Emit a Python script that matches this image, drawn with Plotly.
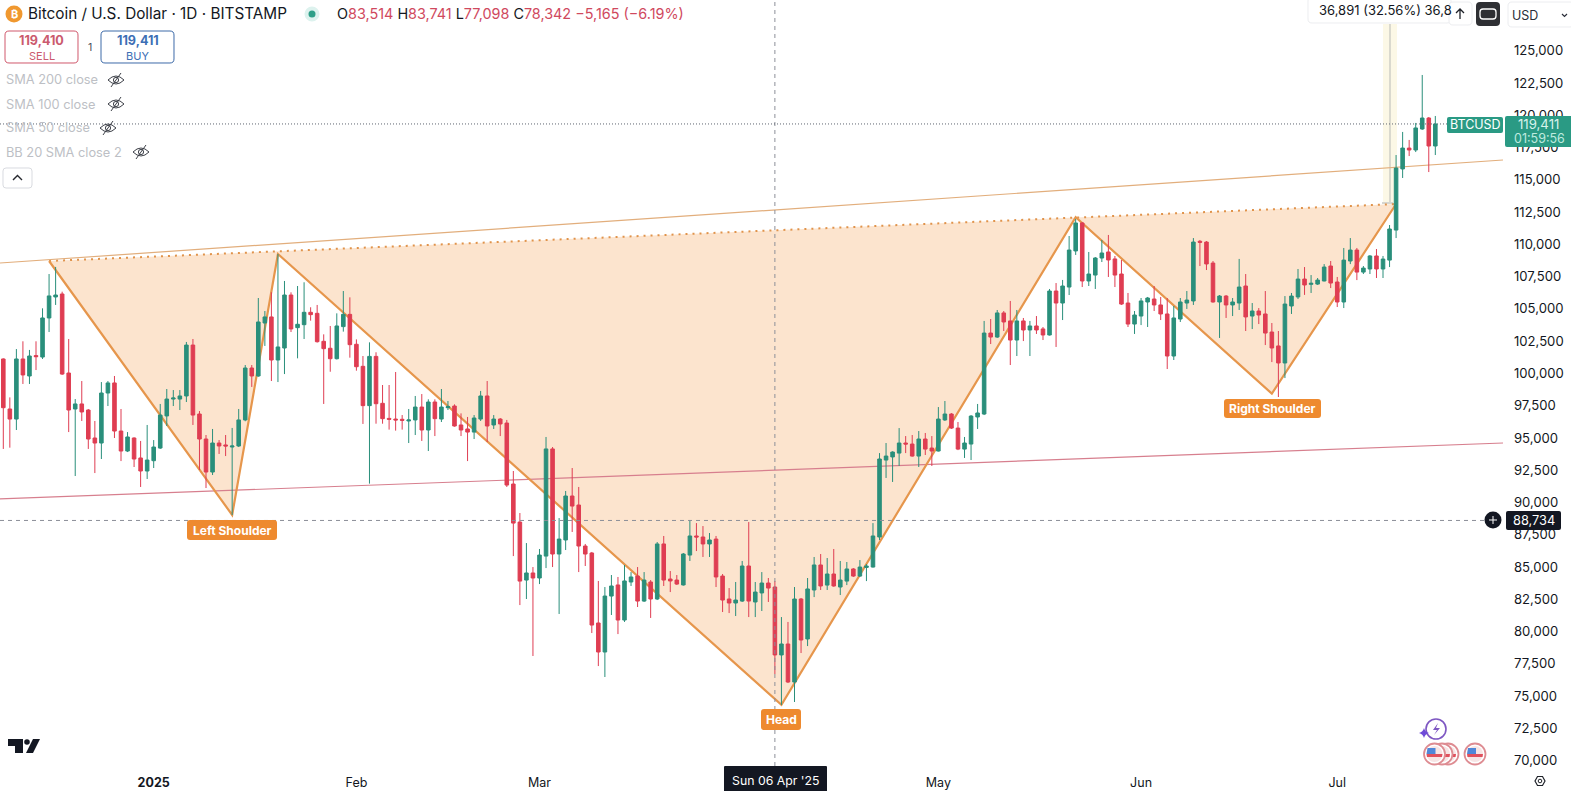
import pandas as pd
import plotly.graph_objects as go

start_date = "2024-12-09"
opens = [
 101030,97150,96370,101030,99710,101290,101180,104210,105840,106070,99940,97150,97540,97070,94900,94510,98390,99170,95440,93890,94900,93350,92340,
 93140,94120,96610,97920,97920,98160,102110,96760,94820,92260,94510,94360,94200,94280,96300,100330,99710,103820,104290,100950,101880,105990,103460,103690,104650,104570,102400,101860,101050,103540,104490,
 102170,100460,97410,101230,97590,96420,96370,96350,96220,96300,97300,95520,97690,96370,97250,97380,95910,95600,95360,96370,98160,95910,96370,96060,91330,88380,83880,84430,
 84040,85740,94050,85900,86990,90400,89700,86520,85980,80550,78300,82640,83500,80780,83730,84190,82250,83730,82410,86680,83960,83880,83500,85820,87300,87220,86680,87060,84190,82410,82100,
 82250,84970,82180,82880,83650,83340,78070,78920,75970,82410,79310,83110,85050,83490,84350,83340,83800,84740,84190,84860,84890,87220,93190,93430,93730,94510,94430,93500,94820,94120,
 93890,96300,96760,95670,94040,94430,96530,96760,103040,102730,104600,103980,102500,103980,103280,103590,103360,102890,106300,105370,106610,109410,111580,107080,107540,108860,109330,108790,107620,105370,103740,
 104360,105450,105680,105220,104520,101260,104130,105370,105530,110160,110100,108470,105450,105910,105220,105370,106690,104360,104750,104520,103120,102040,100720,105140,105840,107230,106820,106840,107080,108240,
 107000,105450,108630,109480,107770,108010,109020,108010,108700,111030,115770,117390,117240,118870,119720,117550]
highs = [
 101080,98050,101800,102400,101730,102400,104960,107620,108170,106250,102580,97920,99320,97150,96220,99240,99320,99710,97150,95360,94950,94670,95910,
 94740,97540,98700,98620,98620,102350,102580,96990,95130,95600,94740,95130,95680,97150,100560,100560,105760,104750,106200,109170,107080,106200,106690,106980,105040,105220,102940,103590,104570,106300,105810,
 102550,101260,102320,101550,99010,99010,100020,96680,97150,98160,98310,97900,97900,98700,97770,97510,96810,96530,96680,98550,99320,96680,96450,96300,92340,89080,86750,84890,
 86290,94980,94200,88690,90790,92570,91100,86680,86060,83810,83340,84270,84120,85050,84500,84890,84500,83880,86830,87300,84580,84270,85980,88540,88300,88070,87530,87300,84350,83260,83730,
 85360,88380,83730,84500,84040,83810,81010,80630,83340,82490,84040,85670,85900,85590,86290,85360,85280,84810,85430,85120,88300,93730,94510,93870,95670,95050,95130,95440,95290,95050,
 97300,97770,96830,96140,94980,96680,97540,103980,104130,104830,104750,105530,104830,104210,103980,104360,103510,106460,106920,107160,110570,111890,111650,109330,108940,110260,110650,109020,108710,106150,104750,
 105760,105840,106690,105840,105760,105140,105760,106300,110410,110260,110180,108630,105990,105990,105760,108790,107620,105370,104980,106300,103820,103200,105910,106150,108010,108160,107540,107310,108390,108630,
 107390,109640,110410,109640,108240,109090,109560,109020,111420,116850,118640,118020,119340,123060,119800,119880]
lows = [
 94050,94150,95520,99090,99090,100170,101030,103120,105220,99790,95360,91950,96220,94050,92180,93270,97380,94900,93110,93810,92650,91100,91720,
 92570,94050,95830,97380,97070,97690,95910,92420,91020,92030,93660,93500,88930,94200,96200,98860,99650,102040,99320,99240,99860,103120,101080,102580,104000,102300,97540,100040,100990,103150,101130,
 100120,95990,91360,96010,96010,95550,95470,95550,94510,95130,94670,93890,95050,96140,97070,95780,95050,93110,94820,96220,94590,95600,95050,91100,85740,81940,82410,77990,
 83570,84810,84890,81250,86210,87610,84500,84970,79770,77210,76360,81170,79690,80630,83420,81790,82180,80940,82330,83420,82950,83500,83450,85360,86130,85670,85670,83340,81400,81320,81090,
 82180,81010,81010,81480,82180,76590,74190,75890,74420,78220,78760,82560,83110,83110,83360,82720,83490,84120,84120,83800,84850,86990,91800,91490,92730,93730,93450,92650,93580,92730,
 93850,96220,95600,93960,93350,93190,95600,96680,102190,102660,103200,100560,101260,102420,101260,102970,102500,102850,101960,104050,105990,109100,106610,106690,106460,108550,107390,106610,105220,103510,102970,
 103660,103510,104750,104050,100250,100950,103900,104910,105220,108240,107930,105400,102660,104210,104360,104830,103200,103350,103740,102110,100790,98080,99550,104520,105680,106000,106150,106770,107050,106530,
 105060,104980,108390,107150,107620,107620,107310,107310,108160,110410,115070,116770,117080,118800,115530,116850]
closes = [
 97250,96370,101030,99790,101260,101210,104210,105920,105990,99860,97070,97540,96920,94820,94510,98390,99170,95440,93890,94980,93270,92340,93190,
 94200,96680,97920,98000,98160,102110,96680,94820,92260,94510,94280,94280,94280,96300,100330,99710,103900,104290,100950,101960,105990,103360,103720,104650,104470,102370,101830,101050,103590,104490,102140,
 100430,97410,101230,97560,96400,96350,96300,96270,96300,97300,95520,97690,96400,97300,97330,95830,95520,95360,96450,98160,95830,96370,95990,91250,88300,83800,84430,84040,
 85820,94050,85900,87060,90400,89620,86520,85900,80390,78300,82640,83420,80780,83810,84120,82250,83880,82410,86680,83880,83810,83570,85900,87300,87220,86680,86990,84120,82330,82100,82330,
 84970,82250,82950,83650,83260,78070,78920,75970,82410,79230,83190,85050,83420,84350,83420,83880,84740,84190,84890,84970,87300,93270,93500,93810,94510,94430,93500,94820,94040,93890,
 96370,96760,95670,94040,94510,96600,96840,103040,102730,104600,103900,102500,103980,103280,103590,103280,102890,106300,105370,106690,109480,111580,107080,107620,108860,109250,108710,107540,105290,103740,104440,
 105530,105760,105220,104520,101260,104210,105450,105600,110100,110080,108400,105450,105910,105220,105450,106610,104290,104750,104440,103040,101880,100720,105290,105910,107230,106770,106900,107150,108160,106920,
 105450,108700,109480,107770,108080,109020,108010,108780,111110,115840,117390,117240,118950,119720,117550,119260]

pattern_dates = ["2024-12-16","2025-01-13","2025-01-20","2025-04-07","2025-05-22","2025-06-21","2025-07-10"]
pattern_prices = [108630,88930,109170,74200,112020,98340,113050]

axis_start = "2024-12-08 11:53"
axis_end = "2025-07-26 08:24"
neckline_prices = [108475,116465]
support_prices = [90170,94510]
crosshair_date = "2025-04-06"
crosshair_price = 88610
last_price_level = 119260

price_ticks = [70000,72500,75000,77500,80000,82500,85000,87500,90000,92500,95000,97500,100000,
               102500,105000,107500,110000,112500,115000,117500,120000,122500,125000]
date_ticks = ["2025-01-01","2025-02-01","2025-03-01","2025-05-01","2025-06-01","2025-07-01"]
date_tick_labels = ["<b>2025</b>","Feb","Mar","May","Jun","Jul"]
indicator_labels = ["SMA 200 close","SMA 100 close","SMA 50 close","BB 20 SMA close 2"]

assert len(opens) == len(highs) == len(lows) == len(closes) == 220
dates = pd.date_range(start_date, periods=len(opens))

# readings were taken with a slightly rough scale: align them with the printed price ticks
def cal(p):
    return 70131.7 + (p - 70000) * 0.99865

W, H, PW, PH = 1571, 791, 1503, 766
FONT = "Inter, 'Noto Sans', sans-serif"
GREEN, RED, ORANGE = "#2A8F7B", "#DF3D52", "#E6964C"
INK = "#131722"

def fx(x): return x / PW
def fy(y): return 1 - y / PH

shapes, annos = [], []

def text(x, y, s, size=13, color=INK, anchor="center"):
    annos.append(dict(xref="paper", yref="paper", x=fx(x), y=fy(y), text=s, showarrow=False,
                      xanchor=anchor, yanchor="middle", font=dict(family=FONT, size=size, color=color),
                      borderpad=0, borderwidth=0))

def path(cmds, line=None, fill="rgba(0,0,0,0)", width=1):
    out = []
    for c in cmds:
        if isinstance(c, str):
            out.append(c)
        else:
            out.append(f"{fx(c[0]):.6f},{fy(c[1]):.6f}")
    shapes.append(dict(type="path", xref="paper", yref="paper", layer="above", path=" ".join(out),
                       fillcolor=fill, line=dict(color=line or "rgba(0,0,0,0)", width=width)))

def rrect(x0, y0, x1, y1, r=3, line=None, fill="rgba(0,0,0,0)", width=1):
    path(["M", (x0 + r, y0), "L", (x1 - r, y0), "Q", (x1, y0), (x1, y0 + r), "L", (x1, y1 - r),
          "Q", (x1, y1), (x1 - r, y1), "L", (x0 + r, y1), "Q", (x0, y1), (x0, y1 - r), "L", (x0, y0 + r),
          "Q", (x0, y0), (x0 + r, y0), "Z"], line, fill, width)

def circle(cx, cy, r, line=None, fill="rgba(0,0,0,0)", width=1):
    shapes.append(dict(type="circle", xref="paper", yref="paper", layer="above",
                       x0=fx(cx - r), x1=fx(cx + r), y0=fy(cy + r), y1=fy(cy - r),
                       fillcolor=fill, line=dict(color=line or "rgba(0,0,0,0)", width=width)))

def eye(x, y):
    c = "#3c3f47"
    path(["M", (x - 8, y), "Q", (x, y - 8), (x + 8, y), "Q", (x, y + 8), (x - 8, y), "Z"], c, width=1)
    circle(x, y, 2.6, c)
    path(["M", (x - 5, y + 7), "L", (x + 5, y - 7)], c, width=1)

def data_path(xs, ys, close=False):
    pts = [f"{x.replace(' ', '_')},{cal(y):.0f}" for x, y in zip(xs, ys)]
    return "M " + " L ".join(pts) + (" Z" if close else "")

# highlighted bar column
shapes.append(dict(type="rect", xref="paper", yref="paper", layer="below", x0=fx(1383), x1=fx(1397),
                   y0=fy(204), y1=fy(24), fillcolor="#FCF8E6", line=dict(width=0)))
shapes.append(dict(type="line", xref="paper", yref="paper", layer="below", x0=fx(1390), x1=fx(1390),
                   y0=fy(204), y1=fy(24), line=dict(color="#DAD9CE", width=2)))
shapes.append(dict(type="line", xref="paper", yref="paper", layer="below", x0=fx(1382), x1=fx(1393),
                   y0=fy(203), y1=fy(203), line=dict(color="#D6D6D0", width=2)))

# pattern drawings, under the candles
shapes.append(dict(type="path", xref="x", yref="y", layer="below",
                   path=data_path(pattern_dates, pattern_prices, True),
                   fillcolor="rgba(245,146,60,0.25)", line=dict(width=0)))
shapes.append(dict(type="line", xref="x", yref="y", layer="below", x0=pattern_dates[0], x1=pattern_dates[-1],
                   y0=cal(pattern_prices[0]), y1=cal(pattern_prices[-1]),
                   line=dict(color="#E0934B", width=2, dash="2px,5px")))
shapes.append(dict(type="line", xref="x", yref="y", layer="below", x0=axis_start, x1=axis_end,
                   y0=cal(neckline_prices[0]), y1=cal(neckline_prices[1]), line=dict(color="#E2AE7C", width=1.2)))
shapes.append(dict(type="line", xref="x", yref="y", layer="below", x0=axis_start, x1=axis_end,
                   y0=cal(support_prices[0]), y1=cal(support_prices[1]), line=dict(color="#D77F8E", width=1.2)))
shapes.append(dict(type="path", xref="x", yref="y", layer="below",
                   path=data_path(pattern_dates, pattern_prices), fillcolor="rgba(0,0,0,0)",
                   line=dict(color=ORANGE, width=2.2)))

# crosshair and last price line
shapes.append(dict(type="line", xref="x", yref="paper", layer="above", x0=crosshair_date, x1=crosshair_date,
                   y0=0, y1=1, line=dict(color="#8C8F98", width=1, dash="4px,4px")))
shapes.append(dict(type="line", xref="paper", yref="y", layer="above", x0=0, x1=fx(1484),
                   y0=crosshair_price, y1=crosshair_price, line=dict(color="#8C8F98", width=1, dash="4px,4px")))
shapes.append(dict(type="line", xref="paper", yref="y", layer="above", x0=0, x1=1,
                   y0=cal(last_price_level), y1=cal(last_price_level), line=dict(color="#5F6670", width=1, dash="1px,2px")))

# pattern labels
for x0, y0, x1, y1, label in [(187, 520, 277, 540, "Left Shoulder"), (761, 709, 801, 730, "Head"),
                              (1224, 399, 1321, 418, "Right Shoulder")]:
    rrect(x0, y0, x1, y1, 3, None, "#EE8A2F")
    text((x0 + x1) / 2, (y0 + y1) / 2, f"<b>{label}</b>", 12, "#FFFFFF")

# header
circle(14, 14, 8.5, None, "#F0982F")
text(14, 14, "<b>₿</b>", 11, "#FFFFFF")
text(28, 14, "Bitcoin / U.S. Dollar · 1D · BITSTAMP", 15.3, INK, "left")
circle(312, 14, 7.5, None, "#DDF2EE")
circle(312, 14, 3.5, None, "#2E9F88")
r = "#D0495E"
ohlc_text = (f"O<span style='color:{r}'>83,514</span> H<span style='color:{r}'>83,741</span> "
             f"L<span style='color:{r}'>77,098</span> C<span style='color:{r}'>78,342</span> "
             f"<span style='color:{r}'>−5,165 (−6.19%)</span>")
text(337, 14, ohlc_text, 14.4, INK, "left")
rrect(5, 31, 78, 63, 4, "#D0586C")
text(41.5, 40.5, "<b>119,410</b>", 12.6, "#CB5A6E")
text(41.5, 55.5, "SELL", 11, "#CB5A6E")
text(90, 48, "1", 10.5, "#4A4E57")
rrect(101, 31, 174, 63, 4, "#3D6AA8")
text(137.5, 40.5, "<b>119,411</b>", 12.6, "#3D6FB5")
text(137.5, 55.5, "BUY", 11, "#3D6FB5")

# hidden indicators
for label, ty, ex in zip(indicator_labels, [80, 104, 128, 152], [116, 116, 108, 141]):
    text(6, ty, label, 12.8, "#BDBFC5", "left")
    eye(ex, ty)
rrect(3, 168, 32, 188, 3, "#D9DBE0")
path(["M", (13, 180), "L", (17.5, 175.5), "L", (22, 180)], "#26282E", width=1.4)

# top right controls
rrect(1308, -3, 1451, 23, 4, "#ECEDF0", "#FFFFFF")
text(1319, 10.5, "36,891 (32.56%) 36,8", 13, INK, "left")
rrect(1449, 2, 1472, 25, 4, "#ECEDF0", "#FFFFFF")
path(["M", (1460, 19), "L", (1460, 9), "M", (1456, 13), "L", (1460, 9), "L", (1464, 13)], "#1D2027", width=1.3)
rrect(1476, 2, 1500, 26, 4, None, "#2E2F33")
rrect(1480, 9, 1496, 19, 3, "#FFFFFF", width=1.3)
rrect(1508, 2, 1574, 27, 4, "#ECEDF0", "#FFFFFF")
text(1512, 15, "USD", 12.5, "#2A2E39", "left")
path(["M", (1562, 14), "L", (1564.5, 16.5), "L", (1567, 14)], "#2A2E39", width=1.2)

# price labels
rrect(1447, 117, 1503, 133, 2, None, "#2A9A84")
text(1475, 125, "BTCUSD", 12.5, "#FFFFFF")
rrect(1505, 116, 1576, 147, 2, None, "#2A9A84")
text(1538, 124, "119,411", 13.2, "#D8F3EC")
text(1539, 138, "01:59:56", 12.5, "#BFEADF")
circle(1493, 520, 8.5, None, "#131722")
path(["M", (1489, 520), "L", (1497, 520), "M", (1493, 516), "L", (1493, 524)], "#FFFFFF", width=1)
rrect(1506, 511, 1561, 530, 2, None, "#131722")
text(1533.5, 520.5, "88,734", 12.8, "#FFFFFF")
rrect(724, 766, 827, 793, 1, None, "#131722")
text(775.5, 780, "Sun 06 Apr '25", 12.3, "#FFFFFF")

# logo and event icons
path(["M", (8, 739), "L", (23, 739), "L", (23, 753), "L", (15, 753), "L", (15, 746), "L", (8, 746), "Z"], None, "#131722")
circle(27, 742, 2.8, None, "#131722")
path(["M", (33, 739), "L", (40, 739), "L", (33, 753), "L", (26, 753), "Z"], None, "#131722")
circle(1436, 729, 10, "#7E57C2", "#FFFFFF", 1.6)
path(["M", (1438, 723), "L", (1433, 730), "L", (1437, 730), "L", (1434, 735), "L", (1440, 728), "L", (1436, 728), "Z"], None, "#7E57C2")
path(["M", (1424, 728), "Q", (1425, 732), (1429, 733), "Q", (1425, 734), (1424, 738), "Q", (1423, 734), (1419, 733), "Q", (1423, 732), (1424, 728), "Z"], None, "#6F4BD8")
for cx in [1448, 1442, 1434.5, 1475]:
    circle(cx, 754, 10.5, "#DE8C92", "#FFFFFF", 1.8)
    circle(cx, 754, 8, None, "#F6E4E4")
    path(["M", (cx - 8, 754), "L", (cx + 8, 754), "L", (cx + 7.5, 757), "L", (cx - 7.5, 757), "Z"], None, "#E0505C")
    path(["M", (cx - 7, 748), "L", (cx + 1, 748), "L", (cx + 1, 754), "L", (cx - 8, 754), "Z"], None, "#4F86D8")
path(["M", (1535, 781), "L", (1537.5, 776.5), "L", (1542.5, 776.5), "L", (1545, 781), "L", (1542.5, 785.5), "L", (1537.5, 785.5), "Z"], "#1F2229", width=1.2)
circle(1540, 781, 1.8, "#1F2229")

fig = go.Figure()
fig.add_trace(go.Candlestick(x=dates, open=[cal(v) for v in opens], high=[cal(v) for v in highs],
                             low=[cal(v) for v in lows], close=[cal(v) for v in closes],
                             increasing=dict(line=dict(color=GREEN, width=1), fillcolor=GREEN),
                             decreasing=dict(line=dict(color=RED, width=1), fillcolor=RED),
                             whiskerwidth=0, showlegend=False, hoverinfo="skip"))

fig.update_layout(
    width=W, height=H, margin=dict(l=0, r=W - PW, t=0, b=H - PH), paper_bgcolor="#FFFFFF", plot_bgcolor="#FFFFFF",
    showlegend=False, hovermode=False, boxgap=0.22, shapes=shapes, annotations=annos,
    font=dict(family=FONT, color=INK, size=12),
    xaxis=dict(type="date", range=[axis_start, axis_end], rangeslider=dict(visible=False), showgrid=False,
               zeroline=False, tickmode="array", tickvals=date_ticks, ticktext=date_tick_labels,
               ticks="", ticklen=0, tickfont=dict(family=FONT, size=12.5, color=INK), showline=False,
               automargin=False, ticklabelstandoff=7),
    yaxis=dict(side="right", range=[69589, 128928], showgrid=False, zeroline=False, tickmode="array",
               tickvals=price_ticks, ticktext=[f"{v:,}" for v in price_ticks], ticks="", showline=False,
               tickfont=dict(family=FONT, size=13.1, color=INK), automargin=False, ticklabelstandoff=10),
)
fig.write_html("out.html", config={"displayModeBar": False},
               post_script="document.body.style.margin='0';document.body.style.overflow='hidden';")
